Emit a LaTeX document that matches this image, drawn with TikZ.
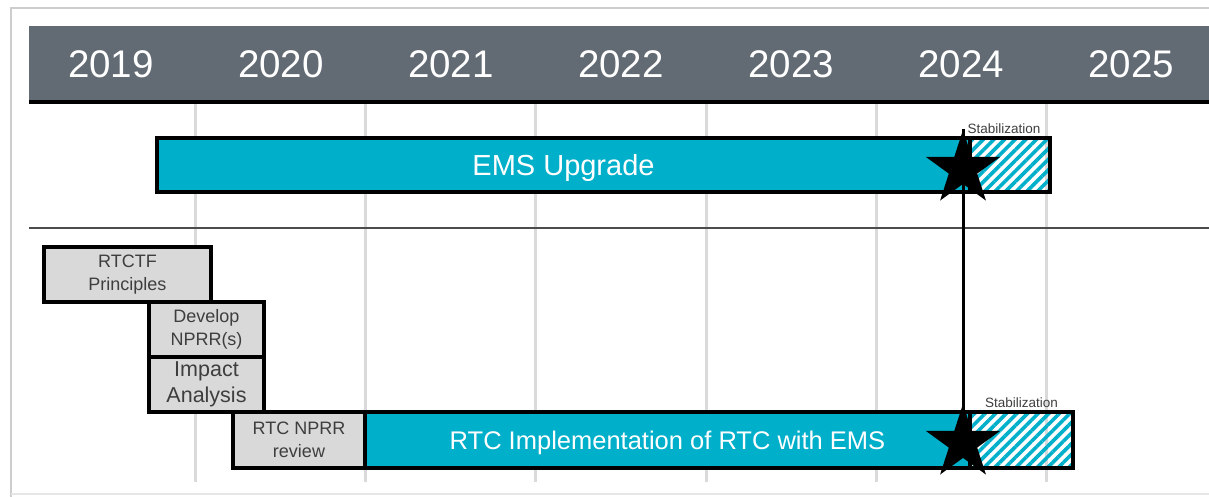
\documentclass[tikz,border=0pt]{standalone}
\usepackage{fontspec}
\setmainfont{Liberation Sans}
\usepackage{tikz}
\usetikzlibrary{positioning, shapes.geometric, patterns.meta}
\definecolor{HeaderGray}{RGB}{98,106,115}
\definecolor{BarCyan}{RGB}{0,175,202}
\definecolor{BoxGray}{RGB}{217,217,217}
\definecolor{DarkText}{RGB}{62,62,62}
\definecolor{GridGray}{RGB}{218,218,218}
\definecolor{FrameGray}{RGB}{205,205,205}

\begin{document}
\begin{tikzpicture}[x=1pt,y=-1pt,
    taskbox/.style={draw=black, line width=3.5pt, fill=BoxGray, text=DarkText, inner sep=0pt,
      align=center, font=\fontsize{18}{23}\selectfont},
    cyanbar/.style={draw=black, line width=3.5pt, fill=BarCyan, text=white, inner sep=0pt, text depth=0pt},
    stabbox/.style={draw=black, line width=3.5pt, inner sep=0pt,
      pattern={Lines[angle=45,distance=7.5pt,line width=3.6pt]}, pattern color=BarCyan},
    stablabel/.style={text=DarkText, inner sep=1pt, font=\fontsize{13.5}{14}\selectfont},
    yearlabel/.style={text=white, font=\fontsize{38.5}{40}\selectfont},
    milestone/.style={star, star points=5, star point ratio=2.618, fill=black, inner sep=0pt, minimum size=78pt},
    gridline/.style={GridGray, line width=3pt}]
  \useasboundingbox (0,0) rectangle (1209,497);

  % frame
  \draw[FrameGray, line width=2.5pt] (11,497) -- (11,8) -- (1209,8);
  \draw[FrameGray!50, line width=1.5pt] (11,494) -- (1209,494);

  % header with years
  \fill[HeaderGray] (29,26) rectangle (1209,101);
  \draw[black, line width=4pt] (29,102) -- (1209,102);
  \foreach \yr [count=\i from 0] in {2019,2020,2021,2022,2023,2024,2025}
    \node[yearlabel] (y\yr) at (111+170*\i,64) {\yr};

  % grid
  \foreach \gx in {195,365,535,706,876,1046}
    \draw[gridline] (\gx,104) -- (\gx,482);
  \draw[black!70, line width=1.5pt] (29,228) -- (1209,228);

  % EMS row
  \node[stabbox, minimum width=80pt, minimum height=54pt] (emsstab) at (1010,165) {};
  \node[cyanbar, minimum width=813pt, minimum height=54pt, font=\fontsize{29}{30}\selectfont]
    (ems) at (563.5,165) {EMS Upgrade};
  \node[stablabel, above=1pt of emsstab.north, xshift=-6pt] (emslab) {Stabilization};

  % RTC tasks
  \node[taskbox, minimum width=167pt, minimum height=55pt] (rtctf) at (127.5,274.5) {RTCTF\\Principles};
  \node[taskbox, minimum width=115pt, minimum height=55pt] (npprr) at (206.5,329.5) {Develop\\NPRR(s)};
  \node[taskbox, minimum width=115pt, minimum height=55pt, font=\fontsize{21.5}{26}\selectfont]
    (impact) at (206.5,384.5) {Impact\\Analysis};
  \node[taskbox, minimum width=132pt, minimum height=56pt] (review) at (299,440) {RTC NPRR\\review};

  % RTC row
  \node[stabbox, minimum width=103pt, minimum height=56pt] (rtcstab) at (1021.5,440) {};
  \node[cyanbar, minimum width=605pt, minimum height=56pt, font=\fontsize{25.5}{27}\selectfont]
    (rtc) at (667.5,440) {RTC Implementation of RTC with EMS};
  \node[stablabel, above=1pt of rtcstab.north] (rtclab) {Stabilization};

  % milestones
  \node[milestone] (emsstar) at (963,169) {};
  \node[milestone] (rtcstar) at (963,443) {};
  \draw[black, line width=3pt] (emsstar.north) -- (rtcstar.center);
\end{tikzpicture}
\end{document}
